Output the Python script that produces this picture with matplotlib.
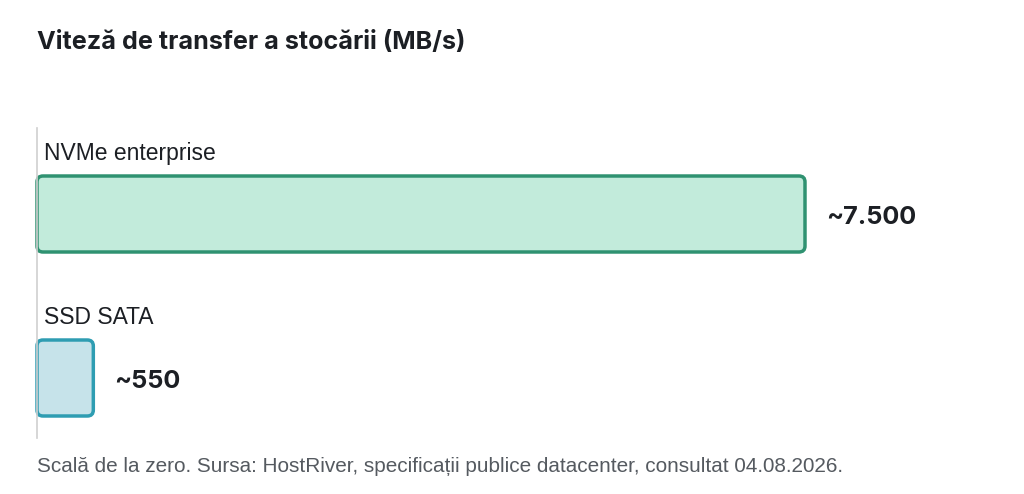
import matplotlib
matplotlib.use("Agg")
import matplotlib.pyplot as plt
from matplotlib.patches import FancyBboxPatch

categories = ["NVMe enterprise", "SSD SATA"]
speeds = [7500, 550]
value_labels = ["~7.500", "~550"]
fills = ["#c2ebdb", "#c6e3ea"]
edges = ["#2f9271", "#2e9db2"]

W, H = 1024, 494
fig = plt.figure(figsize=(W / 100, H / 100), dpi=100)

# axes placed in pixel terms: left edge = baseline at x=37, top 128, bottom 438
left, top, bottom = 37, 128, 438
ax = fig.add_axes([left / W, 1 - bottom / H, (W - left) / W, (bottom - top) / H])
px_per_unit = 768 / 7500
ax.set_xlim(0, (W - left) / px_per_unit)
row_px = 164
ax.set_ylim(1 + (438 - 378) / row_px, -(214 - 128) / row_px)
for s in ax.spines.values():
    s.set_visible(False)
ax.spines["left"].set_visible(True)
ax.spines["left"].set_color("#cfcfcf")
ax.spines["left"].set_linewidth(1.2)
ax.set_xticks([])
ax.set_yticks([])

bar_h = 76 / row_px
aspect = (1 / row_px) / (1 / px_per_unit)
radius = 6 / px_per_unit
for i, (cat, v, lab, fc, ec) in enumerate(zip(categories, speeds, value_labels, fills, edges)):
    patch = FancyBboxPatch((0, i - bar_h / 2), v, bar_h,
                           boxstyle=f"round,pad=0,rounding_size={radius}",
                           mutation_aspect=aspect, facecolor=fc, edgecolor=ec,
                           linewidth=2.5, clip_on=False)
    ax.add_patch(patch)
    ax.annotate(cat, xy=(0, i), xytext=(7, 61), textcoords="offset pixels",
                ha="left", va="center", fontsize=16.5, color="#1c1f24",
                family="Liberation Sans")
    ax.annotate(lab, xy=(v, i), xytext=(21, -3), textcoords="offset pixels",
                ha="left", va="center", fontsize=18.2, fontweight="bold",
                color="#1c1f24", family="Inter")

fig.text(37 / W, 1 - 43 / H, "Viteză de transfer a stocării (MB/s)", ha="left",
         va="center", fontsize=18.1, fontweight="bold", color="#1c1f24", family="Inter")
fig.text(37 / W, 1 - 466 / H,
         "Scală de la zero. Sursa: HostRiver, specificații publice datacenter, consultat 04.08.2026.",
         ha="left", va="center", fontsize=14.98, color="#555a60", family="Liberation Sans")

fig.savefig("out.png", dpi=100, facecolor="white")
